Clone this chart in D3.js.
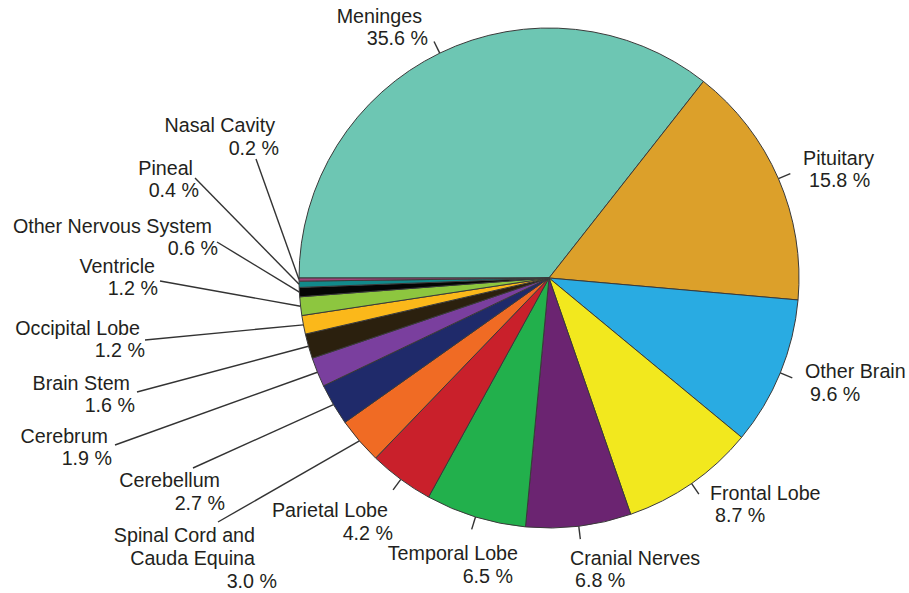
<!DOCTYPE html>
<html>
<head>
<meta charset="utf-8">
<script src="https://cdn.jsdelivr.net/npm/d3@7/dist/d3.min.js"></script>
<style>
  html, body { margin: 0; padding: 0; background: #fff; }
  svg { display: block; }
  text { font-family: "Liberation Sans", Arial, Helvetica, sans-serif; font-size: 19.7px; fill: #231f20; }
</style>
</head>
<body>
<svg id="chart" width="909" height="593"></svg>
<script>
// Tumour site distribution (percent of cases)
const categories = [
  "Meninges", "Pituitary", "Other Brain", "Frontal Lobe", "Cranial Nerves",
  "Temporal Lobe", "Parietal Lobe", "Spinal Cord and\nCauda Equina", "Cerebellum",
  "Cerebrum", "Brain Stem", "Occipital Lobe", "Ventricle",
  "Other Nervous System", "Pineal", "Nasal Cavity"
];
const percents = [35.6, 15.8, 9.6, 8.7, 6.8, 6.5, 4.2, 3.0, 2.7, 1.9, 1.6, 1.2, 1.2, 0.6, 0.4, 0.2];
const sliceColors = [
  "#6dc6b3", "#dca02a", "#29abe2", "#f2e81e", "#6b2471",
  "#22b04c", "#c9202b", "#f06b24", "#1f2a6a", "#7a3f9e",
  "#2b200e", "#fbb81a", "#8dc63f", "#050505", "#12898b", "#a2447c"
];

// Label placement: text anchor, per-line (x, baseline) and, for the
// crowded thin slices, the point where the leader line ends.
const labelLayout = [
  { anchor: "end",   lines: [[422, 23], [428, 45]] },
  { anchor: "start", lines: [[803, 165], [809, 187]] },
  { anchor: "start", lines: [[805, 378], [810, 401]] },
  { anchor: "start", lines: [[710, 500], [715, 522]] },
  { anchor: "start", lines: [[570, 565], [575, 587]] },
  { anchor: "end",   lines: [[518, 560], [513, 583]] },
  { anchor: "end",   lines: [[388, 517], [393, 540]] },
  { anchor: "end",   lines: [[255, 542], [255, 565], [277, 588]], leader: [218, 522] },
  { anchor: "end",   lines: [[220, 487], [225, 510]], leader: [193, 468] },
  { anchor: "end",   lines: [[108, 443], [112, 465]], leader: [115, 445] },
  { anchor: "end",   lines: [[130, 390], [135, 412]], leader: [137, 392] },
  { anchor: "end",   lines: [[140, 335], [145, 357]], leader: [145, 340] },
  { anchor: "end",   lines: [[155, 273], [158, 295]], leader: [160, 281] },
  { anchor: "end",   lines: [[212, 233], [218, 255]], leader: [217, 242] },
  { anchor: "end",   lines: [[193, 175], [199, 197]], leader: [195, 178] },
  { anchor: "end",   lines: [[275, 132], [279, 155]], leader: [256, 159] }
];

const cx = 549, cy = 278, radius = 250, tickOuter = 263;

const svg = d3.select("#chart");
const g = svg.append("g").attr("transform", `translate(${cx},${cy})`);

const pie = d3.pie()
  .sort(null)
  .value(d => d)
  .startAngle(-Math.PI / 2)
  .endAngle(1.5 * Math.PI);

const arcs = pie(percents);
const arc = d3.arc().innerRadius(0).outerRadius(radius);

g.selectAll("path.slice")
  .data(arcs)
  .join("path")
  .attr("class", "slice")
  .attr("d", arc)
  .attr("fill", (d, i) => sliceColors[i])
  .attr("stroke", "#3a3a3a")
  .attr("stroke-width", 1)
  .attr("stroke-linejoin", "round");

// polar helper in the pie's own angle convention (0 = 12 o'clock, clockwise)
const polar = (a, r) => [cx + r * Math.sin(a), cy - r * Math.cos(a)];

const leaders = svg.append("g")
  .attr("stroke", "#333")
  .attr("stroke-width", 1.4)
  .attr("fill", "none");

arcs.forEach((d, i) => {
  const mid = (d.startAngle + d.endAngle) / 2;
  const p0 = polar(mid, radius);
  const p1 = labelLayout[i].leader || polar(mid, tickOuter);
  leaders.append("line")
    .attr("x1", p0[0]).attr("y1", p0[1])
    .attr("x2", p1[0]).attr("y2", p1[1]);
});

const fmt = d3.format(".1f");
const labels = svg.append("g");

categories.forEach((name, i) => {
  const lines = name.split("\n").concat([fmt(percents[i]) + " %"]);
  const lay = labelLayout[i];
  lines.forEach((txt, j) => {
    labels.append("text")
      .attr("x", lay.lines[j][0])
      .attr("y", lay.lines[j][1])
      .attr("text-anchor", lay.anchor)
      .text(txt);
  });
});
</script>
</body>
</html>
